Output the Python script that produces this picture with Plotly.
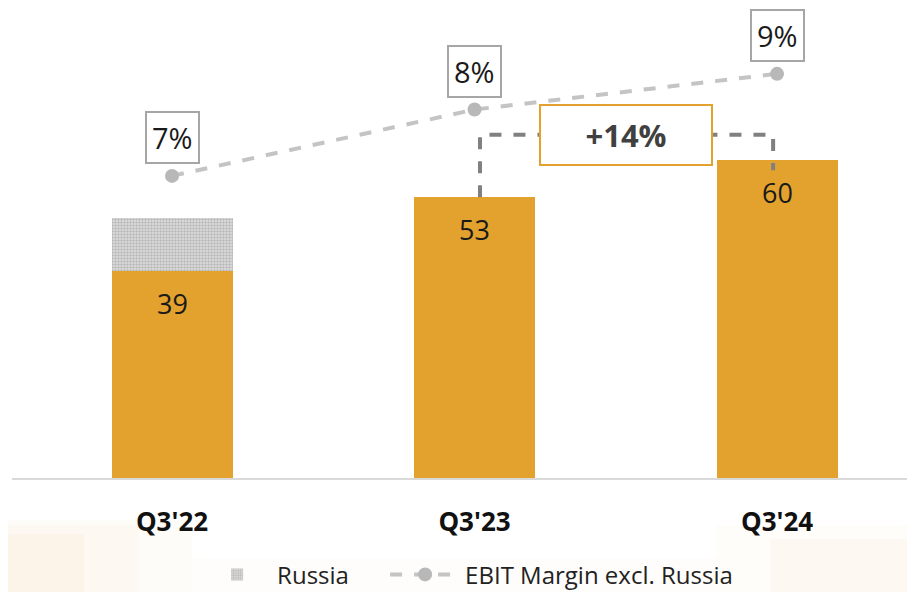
import plotly.graph_objects as go

categories = ["Q3'22", "Q3'23", "Q3'24"]
ebit_excl_russia = [39, 53, 60]
russia = [10, 0, 0]
margin_values = [7.0, 8.3, 9.0]
margin_labels = ["7%", "8%", "9%"]
bar_labels = ["39", "53", "60"]
growth_label = "+14%"

ORANGE = "#E3A22E"
FONT = "Open Sans"

fig = go.Figure()

fig.add_trace(go.Bar(
    x=categories, y=ebit_excl_russia, marker=dict(color=ORANGE, line=dict(width=0)),
    width=0.4, showlegend=False, hoverinfo="skip"))

fig.add_trace(go.Bar(
    x=categories, y=russia, name="Russia" + "\u00a0" * 5, width=0.4,
    marker=dict(color="#e0e0e0", line=dict(width=0),
                pattern=dict(shape=".", fgcolor="#8f8f8f", bgcolor="#e0e0e0", size=3, solidity=0.5))))

fig.add_trace(go.Scatter(
    x=categories, y=margin_values, yaxis="y2", name="EBIT Margin excl. Russia",
    mode="lines+markers", line=dict(color="#c4c4c4", width=4, dash="dash"),
    marker=dict(color="#b8b8b8", size=14)))

annotations = []
for c, v, t in zip(categories, ebit_excl_russia, bar_labels):
    annotations.append(dict(x=c, y=v, xref="x", yref="y", text=t, showarrow=False,
                            yanchor="top", yshift=-12,
                            font=dict(family=FONT, size=27, color="#1a1a1a")))
for c, v, t in zip(categories, margin_values, margin_labels):
    annotations.append(dict(x=c, y=v, xref="x", yref="y2", text=t, showarrow=False,
                            yanchor="bottom", yshift=12, bgcolor="white",
                            bordercolor="#a6a6a6", borderwidth=2, borderpad=5,
                            font=dict(family=FONT, size=29, color="#1a1a1a")))

bracket_y = 64.8
annotations.append(dict(x=1.5, y=bracket_y, xref="x", yref="y", text="<b>" + growth_label + "</b>",
                        showarrow=False, bgcolor="white", bordercolor=ORANGE, borderwidth=2,
                        width=168, height=56, font=dict(family=FONT, size=31, color="#404040")))

shapes = [
    dict(type="path", xref="x", yref="y",
         path=f"M 1.018,{ebit_excl_russia[1]} L 1.018,{bracket_y} L 1.987,{bracket_y} L 1.987,{ebit_excl_russia[2] - 1.9}",
         line=dict(color="#808080", width=4, dash="dash"), layer="above"),
]
# faint warm background tint at the bottom (layered for a soft gradient)
for x0, x1, y0, y1, a in [(-0.02, 0.20, -0.25, -0.09, 0.08), (-0.02, 0.14, -0.25, -0.10, 0.10),
                          (-0.02, 0.08, -0.25, -0.12, 0.12),
                          (0.78, 1.02, -0.25, -0.10, 0.07), (0.84, 1.02, -0.25, -0.13, 0.10),
                          (0.2, 0.78, -0.25, -0.17, 0.06)]:
    shapes.append(dict(type="rect", xref="paper", yref="paper", x0=x0, x1=x1, y0=y0, y1=y1,
                       fillcolor=f"rgba(247,220,180,{a})", line=dict(width=0), layer="below"))

fig.update_layout(
    width=907, height=584, barmode="stack", bargap=0.6,
    margin=dict(l=4, r=0, t=0, b=114, autoexpand=False),
    paper_bgcolor="white", plot_bgcolor="rgba(0,0,0,0)",
    font=dict(family=FONT, color="#1a1a1a"),
    xaxis=dict(range=[-0.529, 2.456], showline=True, linecolor="#d9d9d9", linewidth=2,
               showgrid=False, ticks="outside", ticklen=20, tickcolor="rgba(0,0,0,0)", automargin=False,
               tickfont=dict(family=FONT, size=26, color="#111"), tickprefix="<b>", ticksuffix="</b>"),
    yaxis=dict(range=[0, 88.7], visible=False),
    yaxis2=dict(range=[1.08, 10.29], overlaying="y", visible=False),
    legend=dict(orientation="h", x=0.205, xanchor="left", y=-0.206, yanchor="middle",
                font=dict(family=FONT, size=24, color="#222"), bgcolor="rgba(0,0,0,0)",
                itemwidth=70, traceorder="normal"),
    annotations=annotations, shapes=shapes,
)

fig.write_html("out.html")
